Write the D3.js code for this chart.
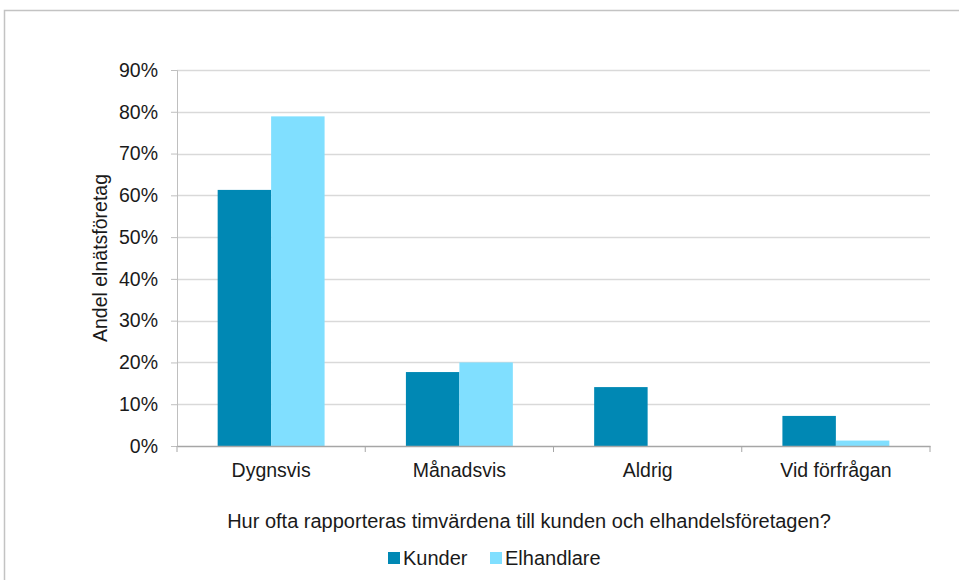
<!DOCTYPE html>
<html>
<head>
<meta charset="utf-8">
<script src="https://cdn.jsdelivr.net/npm/d3@7"></script>
<style>
  body { margin: 0; background: #fff; }
  text { font-family: "Liberation Sans", Arial, sans-serif; fill: #1a1a1a; }
</style>
</head>
<body>
<svg id="chart" width="959" height="580"></svg>
<script>
// Data
var categories = ["Dygnsvis", "Månadsvis", "Aldrig", "Vid förfrågan"];
var seriesNames = ["Kunder", "Elhandlare"];
var kunder = [0.613, 0.177, 0.141, 0.072];
var elhandlare = [0.789, 0.200, 0, 0.013];
var yTicks = [0, 0.1, 0.2, 0.3, 0.4, 0.5, 0.6, 0.7, 0.8, 0.9];
var colors = ["#0088b4", "#80dfff"];

var svg = d3.select("#chart"),
    width = +svg.attr("width"),
    height = +svg.attr("height");

var margin = { left: 177, right: 29, top: 70, bottom: 134 };
var plotW = width - margin.left - margin.right,
    plotH = height - margin.top - margin.bottom;

// outer frame
svg.append("rect")
    .attr("x", 4.5).attr("y", 10.5)
    .attr("width", 1000).attr("height", 700)
    .attr("fill", "none")
    .attr("stroke", "#c3c3c3")
    .attr("stroke-width", 1.5);

var g = svg.append("g").attr("transform", "translate(" + margin.left + "," + margin.top + ")");

// Scales
var x0 = d3.scaleBand().domain(categories).range([0, plotW]).padding(0);
var bw = x0.bandwidth();
var x1 = d3.scaleBand().domain(seriesNames).range([bw * 0.216, bw * 0.784]).padding(0);
var y = d3.scaleLinear().domain([0, 0.9]).range([plotH, 0]);

// gridlines
g.append("g")
    .selectAll("line")
    .data(yTicks.slice(1))
    .enter()
    .append("line")
    .attr("x1", 0).attr("x2", plotW)
    .attr("y1", function (d) { return Math.round(y(d)) + 0.5; })
    .attr("y2", function (d) { return Math.round(y(d)) + 0.5; })
    .attr("stroke", "#d9d9d9")
    .attr("stroke-width", 1.3);

// bars
var rows = categories.map(function (c, i) { return { cat: c, vals: [kunder[i], elhandlare[i]] }; });
g.append("g")
    .selectAll("g")
    .data(rows)
    .enter()
    .append("g")
    .attr("transform", function (d) { return "translate(" + x0(d.cat) + ",0)"; })
    .selectAll("rect")
    .data(function (d) { return d.vals.map(function (v, j) { return { s: seriesNames[j], v: v, j: j }; }); })
    .enter()
    .append("rect")
    .attr("x", function (d) { return x1(d.s); })
    .attr("width", x1.bandwidth())
    .attr("y", function (d) { return y(d.v); })
    .attr("height", function (d) { return plotH - y(d.v); })
    .attr("fill", function (d) { return colors[d.j]; });

// y axis
var yAxis = g.append("g")
    .call(d3.axisLeft(y).tickValues(yTicks).tickFormat(d3.format(".0%")).tickSize(6).tickPadding(13));
yAxis.select(".domain").attr("stroke", "#bfbfbf");
yAxis.selectAll(".tick line").attr("stroke", "#bfbfbf");
yAxis.selectAll("text").style("font-size", "19.5px").attr("fill", "#1a1a1a");

// x axis
var xAxis = g.append("g")
    .attr("transform", "translate(0," + plotH + ")")
    .call(d3.axisBottom(x0).tickSize(0).tickPadding(17));
xAxis.select(".domain").attr("stroke", "#a6a6a6").attr("stroke-width", 1.3);
xAxis.selectAll("text").style("font-size", "19.5px").attr("fill", "#1a1a1a");
// category boundary ticks
xAxis.append("g")
    .selectAll("line")
    .data(categories.concat(["end"]))
    .enter()
    .append("line")
    .attr("x1", function (d, i) { return i * bw; })
    .attr("x2", function (d, i) { return i * bw; })
    .attr("y1", 0).attr("y2", 6)
    .attr("stroke", "#a6a6a6");

// axis titles
svg.append("text")
    .attr("transform", "translate(107," + (margin.top + plotH / 2) + ") rotate(-90)")
    .attr("text-anchor", "middle")
    .style("font-size", "19.5px")
    .text("Andel elnätsföretag");

svg.append("text")
    .attr("x", 529)
    .attr("y", 528)
    .attr("text-anchor", "middle")
    .style("font-size", "20px")
    .text("Hur ofta rapporteras timvärdena till kunden och elhandelsföretagen?");

// legend
var legendX = [388, 490];
var legend = svg.append("g")
    .selectAll("g")
    .data(seriesNames)
    .enter()
    .append("g")
    .attr("transform", function (d, i) { return "translate(" + legendX[i] + ",552)"; });
legend.append("rect")
    .attr("width", 12).attr("height", 12)
    .attr("fill", function (d, i) { return colors[i]; });
legend.append("text")
    .attr("x", 15).attr("y", 13)
    .style("font-size", "20px")
    .text(function (d) { return d; });
</script>
</body>
</html>
